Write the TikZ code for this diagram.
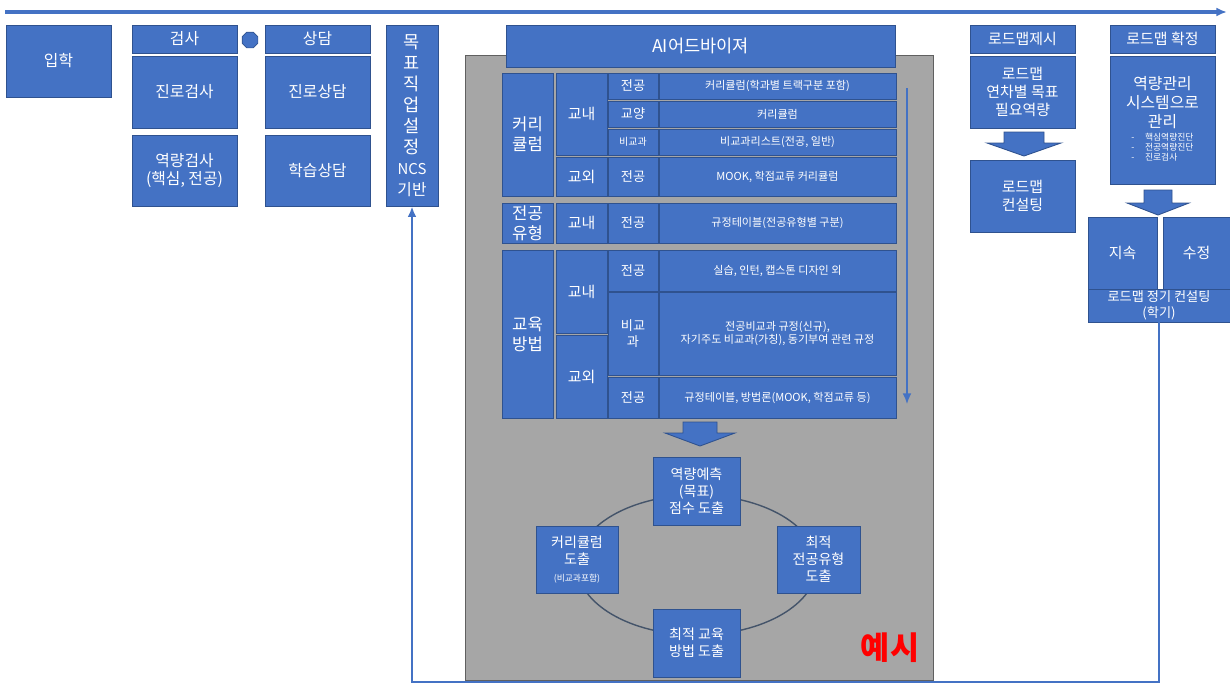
\documentclass[tikz,border=0pt]{standalone}
\usepackage{fontspec}
\setmainfont{Noto Sans CJK KR}
\usetikzlibrary{arrows.meta, shapes.geometric}
\definecolor{boxblue}{HTML}{4472C4}
\definecolor{boxline}{HTML}{2F528F}
\definecolor{panelgray}{HTML}{A6A6A6}
\definecolor{ringline}{HTML}{44546A}
\tikzset{
  sz/.style 2 args={minimum width=#1*0.02cm, minimum height=#2*0.02cm},
  fsz/.style={font=\fontsize{#1pt}{\fpeval{#1*1.2}pt}\selectfont},
  box/.style={draw=boxline, fill=boxblue, text=white, inner sep=0.5pt, align=center, line width=0.5pt},
  flow/.style={draw=boxblue, line width=1.2pt, -{Latex[length=6pt,width=5pt]}},
  blockarr/.style={draw=boxline, fill=boxblue, line width=0.5pt},
}
\begin{document}
\begin{tikzpicture}[x=0.02cm, y=-0.02cm]
\useasboundingbox (0,0) rectangle (1230,684);
% time line
\coordinate (tl-start) at (5,12);
\coordinate (tl-end) at (1227,12);
\draw[flow, line width=1.8pt] (tl-start) -- (tl-end);
% admission, tests, counselling
\node[box, sz={105}{72}, fsz=9] (iphak) at (58.5,61) {입학};
\node[box, sz={105}{28}, fsz=9] (test) at (184.5,39) {검사};
\node[box, sz={105}{72}, fsz=9] (test-career) at (184.5,92) {진로검사};
\node[box, sz={105}{71}, fsz=9] (test-comp) at (184.5,170.5) {역량검사\\(핵심, 전공)};
\node[regular polygon, regular polygon sides=8, draw=boxline, fill=boxblue, minimum size=0.34cm, inner sep=0pt] (dot) at (250,40) {};
\node[box, sz={105}{28}, fsz=9] (counsel) at (317.5,39) {상담};
\node[box, sz={105}{72}, fsz=9] (counsel-career) at (317.5,92) {진로상담};
\node[box, sz={105}{71}, fsz=9] (counsel-study) at (317.5,170.5) {학습상담};
\node[box, sz={52}{181}, fsz=10] (goal) at (412,115.5) {목\\표\\직\\업\\설\\정\\{\fontsize{8.5pt}{10pt}\selectfont NCS}\\{\fontsize{9pt}{10pt}\selectfont 기반}};
% gray panel
\draw[fill=panelgray, draw=gray!75!black, line width=0.5pt] (465,55) rectangle (933,680);
\node[box, sz={389}{42}, fsz=10] (ai) at (700.5,46) {AI어드바이져};
% curriculum rows
\node[box, sz={51}{123}, fsz=9.5] (cur) at (527.5,134.5) {커리\\큘럼};
\node[box, sz={51}{82}, fsz=8.5] (cur-in) at (581.5,114) {교내};
\node[box, sz={51}{39}, fsz=8.5] (cur-out) at (581.5,176.5) {교외};
\node[box, sz={50}{26}, fsz=7.5] (cur-r1) at (633,86) {전공};
\node[box, sz={50}{26}, fsz=7.5] (cur-r2) at (633,114) {교양};
\node[box, sz={50}{26}, fsz=5.7] (cur-r3) at (633,142) {비교과};
\node[box, sz={50}{39}, fsz=7.5] (cur-r4) at (633,176.5) {전공};
\node[box, sz={237}{26}, fsz=6.3] (cur-d1) at (777.5,86) {커리큘럼(학과별 트랙구분 포함)};
\node[box, sz={237}{26}, fsz=6.3] (cur-d2) at (777.5,114) {커리큘럼};
\node[box, sz={237}{26}, fsz=6.3] (cur-d3) at (777.5,142) {비교과리스트(전공, 일반)};
\node[box, sz={237}{39}, fsz=6.3] (cur-d4) at (777.5,176.5) {MOOK, 학점교류 커리큘럼};
% major type row
\node[box, sz={51}{40}, fsz=9.5] (typ) at (527.5,223) {전공\\유형};
\node[box, sz={51}{40}, fsz=8.5] (typ-in) at (581.5,223) {교내};
\node[box, sz={50}{40}, fsz=7.5] (typ-r1) at (633,223) {전공};
\node[box, sz={237}{40}, fsz=6.3] (typ-d1) at (777.5,223) {규정테이블(전공유형별 구분)};
% teaching method rows
\node[box, sz={51}{168}, fsz=9.5] (edu) at (527.5,334) {교육\\방법};
\node[box, sz={51}{83}, fsz=8.5] (edu-in) at (581.5,291.5) {교내};
\node[box, sz={51}{83}, fsz=8.5] (edu-out) at (581.5,376.5) {교외};
\node[box, sz={50}{41}, fsz=7.5] (edu-r1) at (633,270.5) {전공};
\node[box, sz={50}{83}, fsz=7.5] (edu-r2) at (633,333.5) {비교\\과};
\node[box, sz={50}{41}, fsz=7.5] (edu-r3) at (633,397.5) {전공};
\node[box, sz={237}{41}, fsz=6.3] (edu-d1) at (777.5,270.5) {실습, 인턴, 캡스톤 디자인 외};
\node[box, sz={237}{83}, fsz=6.3] (edu-d2) at (777.5,333.5) {전공비교과 규정(신규),\\자기주도 비교과(가칭), 동기부여 관련 규정};
\node[box, sz={237}{41}, fsz=6.3] (edu-d3) at (777.5,397.5) {규정테이블, 방법론(MOOK, 학점교류 등)};
% side arrow
\coordinate (tbl-top) at (907,88);
\coordinate (tbl-bot) at (907,404);
\draw[flow, line width=0.9pt] (tbl-top) -- (tbl-bot);
% block arrow down
\draw[blockarr] (683,422) -- (717,422) -- (717,433) -- (735,433) -- (700,446) -- (665,433) -- (683,433) -- cycle;
% ring
\draw[ringline, line width=0.8pt] (697,565) ellipse [x radius=2.4cm, y radius=1.4cm];
\node[box, sz={87}{68}, fsz=8] (pred) at (696.5,491) {역량예측\\(목표)\\점수 도출};
\node[box, sz={82}{67}, fsz=8] (cur-pick) at (577,559.5) {커리큘럼\\도출\\{\fontsize{5pt}{6pt}\selectfont (비교과포함)}};
\node[box, sz={83}{67}, fsz=8] (typ-pick) at (818.5,559.5) {최적\\전공유형\\도출};
\node[box, sz={87}{68}, fsz=8] (edu-pick) at (696.5,643) {최적 교육\\방법 도출};
\node[text=red, font=\fontsize{18pt}{20pt}\selectfont\bfseries] (yesi) at (890,648) {예시};
% roadmap
\node[box, sz={105}{28}, fsz=8.5] (road-show) at (1022.5,39) {로드맵제시};
\node[box, sz={105}{72}, fsz=8.5] (road-goal) at (1022.5,92) {로드맵\\연차별 목표\\필요역량};
\draw[blockarr] (1004,132) -- (1044,132) -- (1044,143) -- (1061,143) -- (1024,156) -- (987,143) -- (1004,143) -- cycle;
\node[box, sz={105}{72}, fsz=8.5] (road-cons) at (1022.5,196) {로드맵\\컨설팅};
\node[box, sz={105}{28}, fsz=8.5] (road-fix) at (1162.5,39) {로드맵 확정};
\node[box, sz={105}{128}, fsz=9] (road-mgmt) at (1162.5,120) {역량관리\\시스템으로\\관리\\[2pt]{\fontsize{5pt}{5.5pt}\selectfont\begin{tabular}{@{}l@{\hspace{6pt}}l@{}}-&핵심역량진단\\-&전공역량진단\\-&진로검사\end{tabular}\hspace{16pt}}};
\draw[blockarr] (1144,190) -- (1172,190) -- (1172,203) -- (1189,203) -- (1158,215) -- (1127,203) -- (1144,203) -- cycle;
\node[box, sz={69}{72}, fsz=8.5] (keep) at (1122.5,253) {지속};
\node[box, sz={67}{72}, fsz=8.5] (revise) at (1196.5,253) {수정};
\node[box, sz={142}{33}, fsz=7.5] (regular) at (1159,305.5) {로드맵 정기 컨설팅\\(학기)};
% feedback loop
\coordinate (loop-corner) at (412,682);
\draw[flow] (regular.south) -- (regular.south |- loop-corner) -| (goal.south);
\end{tikzpicture}
\end{document}
